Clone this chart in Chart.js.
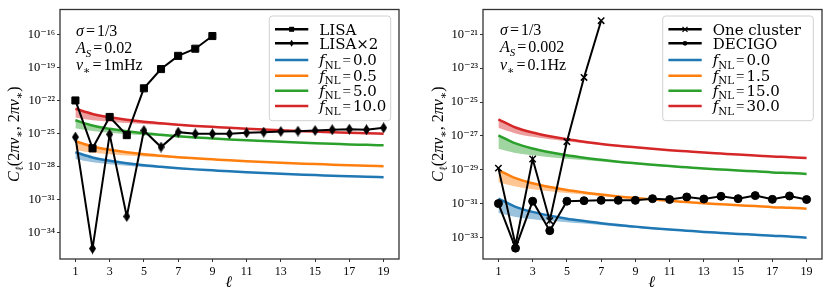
<!DOCTYPE html>
<html><head><meta charset="utf-8">
<script src="https://cdn.jsdelivr.net/npm/chart.js@4.4.1/dist/chart.umd.min.js"></script>
<style>
html,body{margin:0;padding:0;background:#fff;width:830px;height:299px;overflow:hidden}
.p{position:absolute;top:0;width:415px;height:299px}
#w1{left:0}#w2{left:415px}
</style></head><body>
<div class="p" id="w1"><canvas id="c1" width="415" height="299"></canvas></div>
<div class="p" id="w2"><canvas id="c2" width="415" height="299"></canvas></div>
<script>
// ---------- data (log10 of C_ell) ----------
const ells = [1,2,3,4,5,6,7,8,9,10,11,12,13,14,15,16,17,18,19];
const xTicks = [1,3,5,7,9,11,13,15,17,19];
const leftYTickExps = [-16,-19,-22,-25,-28,-31,-34];
const rightYTickExps = [-21,-23,-25,-27,-29,-31,-33];

// left panel
const leftParams = ['1/3','0.02','1mHz'];
const leftFnl = ['0.0','0.5','5.0','10.0'];
const lisaLog = [-22.0,-26.35,-23.5,-25.15,-20.9,-19.15,-17.95,-17.3,-16.15];
const lisa2Log = [-25.33,-35.45,-25.08,-32.53,-24.73,-26.23,-24.88,-25.03,-25.03,-25.03,-24.94,-24.88,-24.82,-24.79,-24.73,-24.66,-24.61,-24.66,-24.48];
const lBlue = [-26.70,-27.18,-27.48,-27.70,-27.88,-28.02,-28.15,-28.26,-28.35,-28.44,-28.52,-28.59,-28.66,-28.72,-28.78,-28.83,-28.89,-28.93,-28.98];
const lBlueLo = [-27.32,-27.61,-27.79,-27.92,-28.04,-28.13,-28.23,-28.32,-28.40,-28.48,-28.56,-28.62,-28.69,-28.75,-28.80,-28.85,-28.91,-28.95,-29.00];
const lOrange = [-25.70,-26.18,-26.48,-26.70,-26.88,-27.02,-27.15,-27.26,-27.35,-27.44,-27.52,-27.59,-27.66,-27.72,-27.78,-27.83,-27.89,-27.93,-27.98];
const lOrangeLo = [-26.50,-26.74,-26.88,-26.99,-27.08,-27.16,-27.25,-27.34,-27.41,-27.50,-27.57,-27.63,-27.70,-27.75,-27.81,-27.86,-27.91,-27.95,-28.00];
const lGreen = [-23.80,-24.28,-24.58,-24.80,-24.98,-25.12,-25.25,-25.36,-25.45,-25.54,-25.62,-25.69,-25.76,-25.82,-25.88,-25.93,-25.99,-26.03,-26.08];
const lGreenLo = [-24.52,-24.78,-24.94,-25.06,-25.16,-25.25,-25.34,-25.43,-25.51,-25.59,-25.66,-25.73,-25.80,-25.85,-25.91,-25.96,-26.01,-26.05,-26.10];
const lRed = [-22.75,-23.23,-23.53,-23.75,-23.93,-24.07,-24.20,-24.31,-24.40,-24.49,-24.57,-24.64,-24.71,-24.77,-24.83,-24.88,-24.94,-24.98,-25.03];
const lRedLo = [-23.55,-23.79,-23.93,-24.04,-24.13,-24.21,-24.30,-24.39,-24.46,-24.55,-24.62,-24.68,-24.75,-24.80,-24.86,-24.91,-24.96,-25.00,-25.05];

// right panel
const rightParams = ['1/3','0.002','0.1Hz'];
const rightFnl = ['0.0','1.5','15.0','30.0'];
const clusterLog = [-28.9,-33.43,-28.36,-32.0,-27.34,-23.55,-20.2];
const decigoLog = [-30.99,-33.62,-30.85,-32.59,-30.85,-30.82,-30.80,-30.80,-30.80,-30.70,-30.75,-30.60,-30.72,-30.56,-30.70,-30.52,-30.74,-30.54,-30.75];
const rBlue = [-30.70,-31.18,-31.48,-31.70,-31.88,-32.02,-32.15,-32.26,-32.35,-32.44,-32.52,-32.59,-32.66,-32.72,-32.78,-32.83,-32.89,-32.93,-33.00];
const rBlueLo = [-31.55,-31.78,-31.91,-32.01,-32.09,-32.17,-32.26,-32.35,-32.42,-32.50,-32.57,-32.63,-32.70,-32.75,-32.81,-32.86,-32.92,-32.96,-33.03];
const rOrange = [-29.01,-29.49,-29.79,-30.01,-30.19,-30.33,-30.46,-30.57,-30.66,-30.75,-30.83,-30.90,-30.97,-31.03,-31.09,-31.14,-31.20,-31.24,-31.29];
const rOrangeLo = [-29.73,-29.99,-30.15,-30.27,-30.37,-30.46,-30.55,-30.64,-30.72,-30.80,-30.87,-30.94,-31.01,-31.06,-31.12,-31.17,-31.22,-31.26,-31.31];
const rGreen = [-26.96,-27.44,-27.74,-27.96,-28.14,-28.28,-28.41,-28.52,-28.61,-28.70,-28.78,-28.85,-28.92,-28.98,-29.04,-29.09,-29.15,-29.19,-29.24];
const rGreenLo = [-27.76,-28.00,-28.14,-28.25,-28.34,-28.42,-28.51,-28.60,-28.67,-28.76,-28.83,-28.89,-28.96,-29.01,-29.07,-29.12,-29.17,-29.21,-29.26];
const rRed = [-26.02,-26.50,-26.80,-27.02,-27.20,-27.34,-27.47,-27.58,-27.67,-27.76,-27.84,-27.91,-27.98,-28.04,-28.10,-28.15,-28.21,-28.25,-28.30];
const rRedLo = [-26.52,-26.85,-27.05,-27.20,-27.32,-27.43,-27.54,-27.63,-27.71,-27.80,-27.87,-27.94,-28.01,-28.06,-28.12,-28.17,-28.23,-28.27,-28.32];

// ---------- styling ----------
const C = {blue:'#1f77b4', orange:'#ff7f0e', green:'#2ca02c', red:'#d62728'};
const BAND = {blue:'rgba(31,119,180,0.45)', orange:'rgba(255,127,14,0.45)', green:'rgba(44,160,44,0.45)', red:'rgba(214,39,40,0.45)'};
const LS = '"Liberation Serif","DejaVu Serif",serif';
const DS = '"DejaVu Serif","Liberation Serif",serif';
const SUP = {'-':'\u207B','0':'\u2070','1':'\u00B9','2':'\u00B2','3':'\u00B3','4':'\u2074','5':'\u2075','6':'\u2076','7':'\u2077','8':'\u2078','9':'\u2079'};
function powLabel(v){ const e = Math.round(Math.log10(v)); return '10' + String(e).split('').map(c=>SUP[c]).join(''); }
const toPts = (logs) => logs.map((v,i)=>({x: ells[i], y: Math.pow(10, v)}));

function thinDiamond(w,h){ const c=document.createElement('canvas'); c.width=w; c.height=h; const g=c.getContext('2d'); g.fillStyle='#000'; g.beginPath(); g.moveTo(w/2,0); g.lineTo(w,h/2); g.lineTo(w/2,h); g.lineTo(0,h/2); g.closePath(); g.fill(); return c; }
const DIAMOND = thinDiamond(7,11);

function fontOf(p,size,fam){ const s=(p.s||p.p)?size*0.68:size; return (p.i?'italic ':'')+s.toFixed(1)+'px '+(p.f||fam); }
function richWidth(ctx,parts,size,fam){ let w=0; for(const p of parts){ if(p.g){w+=p.g;continue;} ctx.font=fontOf(p,size,fam); w+=ctx.measureText(p.t).width; } return w; }
function drawRich(ctx,x,y,parts,size,fam){ let cx=x; for(const p of parts){ if(p.g){cx+=p.g;continue;} ctx.font=fontOf(p,size,fam); const dy=p.s?size*0.25:(p.p?-size*0.38:0); ctx.fillText(p.t,cx,y+dy); cx+=ctx.measureText(p.t).width; } return cx-x; }

function paramParts(vals){ return [
  [{t:'σ',i:1},{g:2},{t:'='},{g:2},{t:vals[0]}],
  [{t:'A',i:1},{t:'S',i:1,s:1},{g:2},{t:'='},{g:2},{t:vals[1]}],
  [{t:'ν',i:1},{t:'∗',s:1},{g:2},{t:'='},{g:2},{t:vals[2]}]
]; }
function fnlParts(v){ return [{t:'f',i:1},{t:'NL',s:1},{g:2},{t:'=',f:LS},{g:2},{t:v}]; }
const yTitle = [{t:'C',i:1},{t:'ℓ',s:1},{t:'(2'},{t:'π',i:1},{t:'ν',i:1},{t:'∗',s:1},{t:', 2'},{t:'π',i:1},{t:'ν',i:1},{t:'∗',s:1},{t:')'}];

function drawMarker(ctx,kind,x,y){
  ctx.save(); ctx.fillStyle='#000'; ctx.strokeStyle='#000';
  if(kind==='rect'){ ctx.fillRect(x-2.5,y-2.5,5,5); }
  else if(kind==='diamond'){ ctx.beginPath(); ctx.moveTo(x,y-3.5); ctx.lineTo(x+2.2,y); ctx.lineTo(x,y+3.5); ctx.lineTo(x-2.2,y); ctx.closePath(); ctx.fill(); }
  else if(kind==='circle'){ ctx.beginPath(); ctx.arc(x,y,2.4,0,Math.PI*2); ctx.fill(); }
  else if(kind==='x'){ ctx.lineWidth=1.2; ctx.beginPath(); ctx.moveTo(x-2.5,y-2.5); ctx.lineTo(x+2.5,y+2.5); ctx.moveTo(x+2.5,y-2.5); ctx.lineTo(x-2.5,y+2.5); ctx.stroke(); }
  ctx.restore();
}

const deco = {
  id:'deco',
  afterDatasetsDraw(chart,args,o){
    const ctx=chart.ctx, a=chart.chartArea;
    ctx.save();
    ctx.strokeStyle='#333'; ctx.lineWidth=1.3;
    ctx.strokeRect(a.left,a.top,a.right-a.left,a.bottom-a.top);
    ctx.fillStyle='#000'; ctx.textAlign='left'; ctx.textBaseline='alphabetic';
    paramParts(o.params).forEach((parts,i)=>drawRich(ctx,o.noteX,o.noteY[i],parts,16,LS));
    ctx.font='italic 16px '+LS;
    const xw=ctx.measureText('ℓ').width;
    ctx.fillText('ℓ',(a.left+a.right)/2-xw/2-1,287);
    ctx.save();
    ctx.translate(o.yTitleX,(a.top+a.bottom)/2);
    ctx.rotate(-Math.PI/2);
    const w=richWidth(ctx,yTitle,16,LS);
    drawRich(ctx,-w/2,5,yTitle,16,LS);
    ctx.restore();
    const L=o.legend;
    ctx.save();
    ctx.beginPath(); ctx.roundRect(L.x,L.y,L.w,L.h,3);
    ctx.fillStyle='rgba(255,255,255,0.85)'; ctx.fill();
    ctx.strokeStyle='rgba(204,204,204,0.9)'; ctx.lineWidth=1; ctx.stroke();
    ctx.restore();
    const rows=[13.3,27.3,44,59.7,74.7,90];
    o.items.forEach((it,i)=>{
      const y=L.y+rows[i];
      ctx.save();
      ctx.strokeStyle=it.color; ctx.lineWidth=2.5;
      ctx.beginPath(); ctx.moveTo(L.x+5.7,y); ctx.lineTo(L.x+39,y); ctx.stroke();
      ctx.restore();
      if(it.marker) drawMarker(ctx,it.marker,L.x+22.3,y);
      ctx.fillStyle='#000';
      if(it.text){ ctx.font='15px '+DS; ctx.fillText(it.text,L.x+50,y+5.4); }
      else drawRich(ctx,L.x+50,y+5,it.parts,15,DS);
    });
    ctx.restore();
  }
};

function makeChart(id,cfg){
  const ds=[];
  cfg.black.forEach(b=>ds.push({label:b.label,data:toPts(b.data),borderColor:'#000',backgroundColor:'#000',borderWidth:2,
    pointStyle:b.style,pointRadius:b.r,pointBorderWidth:b.bw,pointBackgroundColor:'#000',pointBorderColor:'#000',fill:false,tension:0}));
  cfg.curves.forEach(c=>{
    const idx=ds.length;
    ds.push({label:c.label,data:toPts(c.data),borderColor:C[c.color],borderWidth:2.5,pointRadius:0,
      fill:{target:idx+1},backgroundColor:BAND[c.color],cubicInterpolationMode:'monotone'});
    ds.push({label:c.label+' lo',data:toPts(c.lo),borderColor:'rgba(0,0,0,0)',borderWidth:0,pointRadius:0,fill:false,cubicInterpolationMode:'monotone'});
  });
  const tickFont={family:LS,size:12};
  return new Chart(document.getElementById(id),{
    type:'line',
    data:{datasets:ds},
    options:{
      responsive:false, animation:false, events:[], devicePixelRatio:1,
      layout:{padding:{top:cfg.padTop,right:cfg.padRight,left:0,bottom:0}},
      plugins:{legend:{display:false},tooltip:{enabled:false},deco:cfg.deco},
      scales:{
        x:{type:'linear',min:0.1,max:19.9,bounds:'data',
          afterBuildTicks:s=>{s.ticks=xTicks.map(v=>({value:v}));},
          afterFit:s=>{s.height=40;},
          ticks:{font:tickFont,color:'#000',padding:3,maxRotation:0,autoSkip:false,callback:v=>String(v)},
          grid:{display:true,drawOnChartArea:false,drawTicks:true,tickLength:3,color:'#333'},
          border:{display:false}},
        y:{type:'logarithmic',min:Math.pow(10,cfg.yMin),max:Math.pow(10,cfg.yMax),bounds:'data',
          afterBuildTicks:s=>{s.ticks=cfg.yTicks.map(e=>({value:Math.pow(10,e)}));},
          afterFit:s=>{s.width=cfg.yW;},
          ticks:{font:{family:LS,size:12.5},color:'#000',padding:2,autoSkip:false,callback:v=>powLabel(v)},
          grid:{display:true,drawOnChartArea:false,drawTicks:true,tickLength:3,color:'#333'},
          border:{display:false}}
      }
    },
    plugins:[deco]
  });
}

makeChart('c1',{
  yMin:-36.4, yMax:-13.74, yTicks:leftYTickExps, yW:60, padTop:8, padRight:16,
  black:[{label:'LISA',data:lisaLog,style:'rect',r:5,bw:1},{label:'LISA×2',data:lisa2Log,style:DIAMOND,r:5,bw:0}],
  curves:[
    {label:'fNL = '+leftFnl[0],data:lBlue,lo:lBlueLo,color:'blue'},
    {label:'fNL = '+leftFnl[1],data:lOrange,lo:lOrangeLo,color:'orange'},
    {label:'fNL = '+leftFnl[2],data:lGreen,lo:lGreenLo,color:'green'},
    {label:'fNL = '+leftFnl[3],data:lRed,lo:lRedLo,color:'red'}
  ].reverse(),
  deco:{params:leftParams,noteX:76,noteY:[36,52.7,70],yTitleX:14,
    legend:{x:269.3,y:16,w:121.4,h:104.7},
    items:[{text:'LISA',color:'#000',marker:'rect'},{text:'LISA×2',color:'#000',marker:'diamond'},
      {parts:fnlParts(leftFnl[0]),color:C.blue},{parts:fnlParts(leftFnl[1]),color:C.orange},
      {parts:fnlParts(leftFnl[2]),color:C.green},{parts:fnlParts(leftFnl[3]),color:C.red}]}
});

makeChart('c2',{
  yMin:-34.26, yMax:-19.54, yTicks:rightYTickExps, yW:68, padTop:7, padRight:8,
  black:[{label:'One cluster',data:clusterLog,style:'crossRot',r:4.5,bw:1.5},{label:'DECIGO',data:decigoLog,style:'circle',r:4,bw:1}],
  curves:[
    {label:'fNL = '+rightFnl[0],data:rBlue,lo:rBlueLo,color:'blue'},
    {label:'fNL = '+rightFnl[1],data:rOrange,lo:rOrangeLo,color:'orange'},
    {label:'fNL = '+rightFnl[2],data:rGreen,lo:rGreenLo,color:'green'},
    {label:'fNL = '+rightFnl[3],data:rRed,lo:rRedLo,color:'red'}
  ].reverse(),
  deco:{params:rightParams,noteX:85,noteY:[35,52.3,70],yTitleX:23,
    legend:{x:247.7,y:16,w:150.6,h:104.7},
    items:[{text:'One cluster',color:'#000',marker:'x'},{text:'DECIGO',color:'#000',marker:'circle'},
      {parts:fnlParts(rightFnl[0]),color:C.blue},{parts:fnlParts(rightFnl[1]),color:C.orange},
      {parts:fnlParts(rightFnl[2]),color:C.green},{parts:fnlParts(rightFnl[3]),color:C.red}]}
});
</script>
</body></html>
